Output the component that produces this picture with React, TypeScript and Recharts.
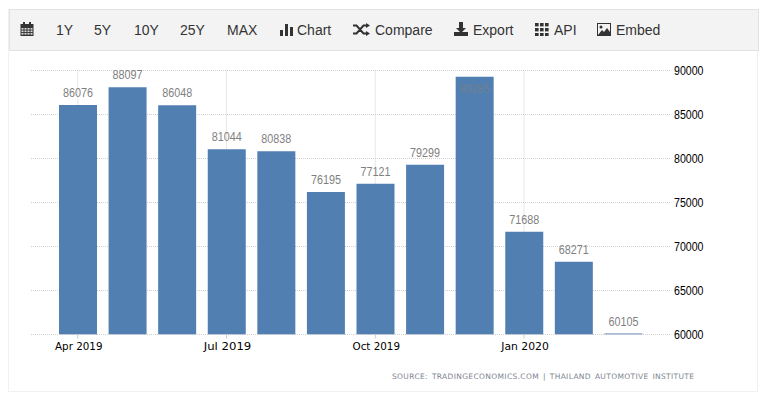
import React from "react";
import { BarChart, Bar, XAxis, YAxis, CartesianGrid, LabelList } from "recharts";

const months = ["Apr 2019","May 2019","Jun 2019","Jul 2019","Aug 2019","Sep 2019","Oct 2019","Nov 2019","Dec 2019","Jan 2020","Feb 2020","Mar 2020"];
const sales = [86076,88097,86048,81044,80838,76195,77121,79299,89285,71688,68271,60105];
const xTicks = ["Apr 2019","Jul 2019","Oct 2019","Jan 2020"];
const yTicks = [60000,65000,70000,75000,80000,85000,90000];
const rangeButtons: [string, number][] = [["1Y",56],["5Y",94],["10Y",134],["25Y",180],["MAX",227]];

const data = months.map((month, i) => ({ month, value: sales[i] }));
const ICON = "#333";
const GRID = "#d0d0d0";

const ToolText = ({ x, children }: { x: number; children: React.ReactNode }) => (
  <span style={{ position: "absolute", left: x, top: 21, fontSize: 14, lineHeight: "18px", color: "#333", whiteSpace: "nowrap" }}>{children}</span>
);

const Icon = ({ x, y, w, h, children }: any) => (
  <svg style={{ position: "absolute", left: x, top: y }} width={w} height={h} viewBox={`0 0 ${w} ${h}`}>{children}</svg>
);

const ValueLabel = (props: any) => {
  const { x, y, width, value } = props;
  const inside = y < 80;
  return (
    <text x={x + width / 2} y={inside ? y + 16 : y - 8} textAnchor="middle" fontFamily="Liberation Sans" fontSize={12} textLength={30} lengthAdjust="spacingAndGlyphs" fill={inside ? "#6f7f8f" : "#7f7f7f"}>
      {value}
    </text>
  );
};

const XTick = ({ x, y, payload }: any) => (
  <text x={x + 1} y={y + 9} textAnchor="middle" fontFamily="DejaVu Sans" fontSize={11} textLength={47.5} lengthAdjust="spacingAndGlyphs" fill="#000">
    {payload.value}
  </text>
);

const YTick = ({ x, y, payload }: any) => (
  <text x={x} y={y + 4.5} textAnchor="start" fontFamily="Liberation Sans" fontSize={12} textLength={29.5} lengthAdjust="spacingAndGlyphs" fill="#000">
    {payload.value}
  </text>
);

export default function App() {
  return (
    <div style={{ position: "absolute", left: 0, top: 0, width: 766, height: 396, background: "#fff", fontFamily: "'Liberation Sans', Arial, sans-serif", overflow: "hidden" }}>
      <div style={{ position: "absolute", left: 8, top: 9, width: 748, height: 381, border: "1px solid #f1f1f1" }} />
      <div style={{ position: "absolute", left: 9, top: 9, width: 748, height: 40, background: "#f3f3f3", border: "1px solid #e2e2e2" }} />
      <Icon x={20} y={22} w={14} h={14}>
        <rect x={0.5} y={2} width={13} height={12} fill={ICON} />
        <rect x={3} y={0} width={2} height={3} fill={ICON} />
        <rect x={9} y={0} width={2} height={3} fill={ICON} />
        {[6, 8.5, 11].map((yy) => [1.5, 4.5, 7.5, 10.5].map((xx) => <rect key={`${xx}-${yy}`} x={xx} y={yy} width={2} height={1.6} fill="#ddd" />))}
      </Icon>
      {rangeButtons.map(([t, x]) => <ToolText key={t} x={x}>{t}</ToolText>)}
      <Icon x={280} y={23} w={13} h={13}>
        <rect x={0} y={7} width={3} height={6} fill={ICON} /><rect x={5} y={1} width={3} height={12} fill={ICON} /><rect x={10} y={4} width={3} height={9} fill={ICON} />
      </Icon>
      <ToolText x={297}>Chart</ToolText>
      <Icon x={353} y={23} w={17} h={13}>
        <path d="M0 2.5h3.5l7 8H14M0 10.5h3.5l7-8H14" stroke={ICON} strokeWidth={2} fill="none" />
        <path d="M13 0l4 2.5-4 2.5zM13 8l4 2.5-4 2.5z" fill={ICON} />
      </Icon>
      <ToolText x={375}>Compare</ToolText>
      <Icon x={454} y={22} w={14} h={14}>
        <path d="M5 0h4v6h3L7 11 2 6h3z" fill={ICON} /><rect x={0} y={10} width={14} height={4} fill={ICON} />
      </Icon>
      <ToolText x={473}>Export</ToolText>
      <Icon x={535} y={23} w={14} h={13}>
        {[0, 5, 10].map((yy) => [0, 5, 10].map((xx) => <rect key={`${xx}-${yy}`} x={xx} y={yy} width={3.6} height={3.4} fill={ICON} />))}
      </Icon>
      <ToolText x={554}>API</ToolText>
      <Icon x={597} y={23} w={14} h={13}>
        <rect x={0.5} y={0.5} width={13} height={12} fill="none" stroke={ICON} />
        <path d="M1 12l4-5 2 2 3-4 3 4v3z" fill={ICON} /><circle cx={4} cy={4} r={1.5} fill={ICON} />
      </Icon>
      <ToolText x={616}>Embed</ToolText>

      <div style={{ position: "absolute", left: 0, top: 0 }}>
        <BarChart width={766} height={396} data={data} margin={{ top: 70.5, right: 0, bottom: 31.5, left: 31 }} barCategoryGap={0}>
          <CartesianGrid stroke={GRID} strokeDasharray="1 1" syncWithTicks />
          <XAxis
            dataKey="month"
            ticks={xTicks}
            interval={0}
            padding={{ left: 22, right: 22 }}
            height={30}
            axisLine={{ stroke: GRID, strokeDasharray: "1 1" }}
            tickLine={{ stroke: "#cccccc" }}
            tickSize={4}
            tick={XTick}
          />
          <YAxis
            orientation="right"
            width={96}
            domain={[60000, 90000]}
            ticks={yTicks}
            interval={0}
            axisLine={false}
            tickLine={false}
            tickMargin={0}
            tickSize={4}
            tick={YTick}
          />
          <Bar dataKey="value" fill="#517fb2" barSize={38} isAnimationActive={false}>
            <LabelList dataKey="value" content={ValueLabel} />
          </Bar>
        </BarChart>
      </div>
      <div style={{ position: "absolute", left: 392, top: 371, fontFamily: "DejaVu Sans", fontSize: 7.5, lineHeight: "11px", color: "#7d8490", letterSpacing: 0.35, wordSpacing: 1.2, whiteSpace: "nowrap" }}>
        SOURCE: TRADINGECONOMICS.COM | THAILAND AUTOMOTIVE INSTITUTE
      </div>
    </div>
  );
}
